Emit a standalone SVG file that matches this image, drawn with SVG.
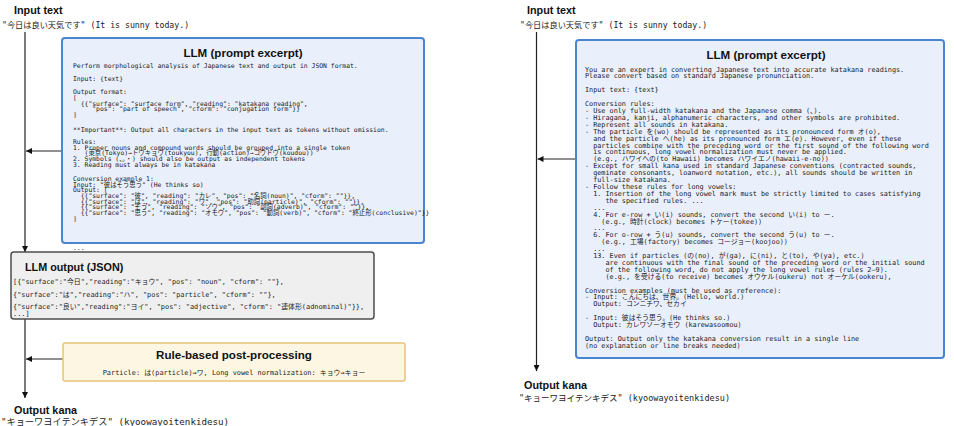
<svg xmlns="http://www.w3.org/2000/svg" width="954" height="426" viewBox="0 0 954 426">
<style>
.hdr{font-family:"Liberation Sans","Noto Sans CJK JP",sans-serif;font-weight:bold;font-size:10.8px;fill:#111}
.ttl{font-family:"Liberation Sans","Noto Sans CJK JP",sans-serif;font-weight:bold;font-size:11.6px;fill:#111}
.str{font-family:"DejaVu Sans Mono","Noto Sans CJK JP",monospace;font-size:8.2px;fill:#222}
.m1{font-family:"DejaVu Sans Mono","Noto Sans CJK JP",monospace;font-size:6.4px;fill:#222;white-space:pre}
.m2{font-family:"DejaVu Sans Mono","Noto Sans CJK JP",monospace;font-size:6.8px;fill:#222;white-space:pre}
.m3{font-family:"DejaVu Sans Mono","Noto Sans CJK JP",monospace;font-size:6.9px;fill:#222;white-space:pre}
.blue{fill:#e9effb;stroke:#4a86cf;stroke-width:2}
.gray{fill:#efefef;stroke:#4d4d4d;stroke-width:1.5}
.yel{fill:#fdf6e3;stroke:#e6c47a;stroke-width:1.5}
.ln{stroke:#222;stroke-width:1.2;fill:none}
</style>
<defs>
<marker id="ah" markerUnits="userSpaceOnUse" markerWidth="6" markerHeight="6" refX="6" refY="3" orient="auto">
<path d="M0,0 L6,3 L0,6 z" fill="#111"/>
</marker>
</defs>

<g id="connectors">
<line class="ln" x1="25" y1="32" x2="25" y2="252" marker-end="url(#ah)"/>
<line class="ln" x1="62" y1="151" x2="26" y2="151" marker-end="url(#ah)"/>
<line class="ln" x1="25" y1="319" x2="25" y2="398" marker-end="url(#ah)"/>
<line class="ln" x1="63" y1="359" x2="26" y2="359" marker-end="url(#ah)"/>
<line class="ln" x1="536.5" y1="32" x2="536.5" y2="371" marker-end="url(#ah)"/>
<line class="ln" x1="576" y1="159" x2="537.5" y2="159" marker-end="url(#ah)"/>
</g>

<g id="input-left">
<text class="hdr" x="14" y="14">Input text</text>
<text class="str" x="2" y="28">"今日は良い天気です" (It is sunny today.)</text>
</g>

<g id="llm-left">
<rect class="blue" x="62" y="38" width="362" height="205" rx="3"/>
<text class="ttl" x="243" y="57" text-anchor="middle">LLM  (prompt excerpt)</text>
<text class="m1" x="73" y="67.5">Perform morphological analysis of Japanese text and output in JSON format.</text>
<text class="m1" x="73" y="80.5">Input: {text}</text>
<text class="m1" x="73" y="94">Output format:</text>
<text class="m1" x="73" y="100">[</text>
<text class="m1" x="73" y="105.5">  {{"surface": "surface form", "reading": "katakana reading",</text>
<text class="m1" x="73" y="111">     "pos": "part of speech", "cform": "conjugation form"}}</text>
<text class="m1" x="73" y="116.5">]</text>
<text class="m1" x="73" y="132">**Important**: Output all characters in the input text as tokens without omission.</text>
<text class="m1" x="73" y="143.5">Rules:</text>
<text class="m1" x="73" y="149.5">1. Proper nouns and compound words should be grouped into a single token</text>
<text class="m1" x="73" y="155.2">   (東京(Tokyo)→トウキョウ(toukyou), 行動(action)→コウドウ(koudou))</text>
<text class="m1" x="73" y="161">2. Symbols (、。・) should also be output as independent tokens</text>
<text class="m1" x="73" y="167">3. Reading must always be in katakana</text>
<text class="m1" x="73" y="181">Conversion example 1:</text>
<text class="m1" x="73" y="186.5">Input: "彼はそう思う" (He thinks so)</text>
<text class="m1" x="73" y="192.2">Output: [</text>
<text class="m1" x="73" y="198">  {{"surface": "彼", "reading": "カレ", "pos": "名詞(noun)", "cform": ""}},</text>
<text class="m1" x="73" y="203.7">  {{"surface": "は", "reading": "ワ", "pos": "助詞(particle)", "cform": ""}},</text>
<text class="m1" x="73" y="209.4">  {{"surface": "そう", "reading": "ソウ", "pos": "副詞(adverb)", "cform": ""}},</text>
<text class="m1" x="73" y="215">  {{"surface": "思う", "reading": "オモウ", "pos": "動詞(verb)", "cform": "終止形(conclusive)"}}</text>
<text class="m1" x="73" y="220.6">]</text>
<text class="m1" x="73" y="250">...</text>
</g>

<g id="llm-output">
<rect class="gray" x="11" y="252" width="363" height="67" rx="3"/>
<text class="hdr" x="25" y="271">LLM output (JSON)</text>
<text class="m3" x="13" y="284">[{"surface":"今日","reading":"キョウ", "pos": "noun", "cform": ""},</text>
<text class="m3" x="13" y="296.5">{"surface":"は","reading":"ハ", "pos": "particle", "cform": ""},</text>
<text class="m3" x="13" y="309">{"surface":"良い","reading":"ヨイ", "pos": "adjective", "cform": "連体形(adnominal)"}},</text>
<text class="m3" x="13" y="315.5">...]</text>
</g>

<g id="post-processing">
<rect class="yel" x="63" y="343" width="342" height="38" rx="2"/>
<text class="ttl" x="234" y="358.5" text-anchor="middle">Rule-based post-processing</text>
<text class="m3" x="234" y="374.5" text-anchor="middle">Particle: は(particle)→ワ, Long vowel normalization: キョウ→キョー</text>
</g>

<g id="output-left">
<text class="hdr" x="14" y="414">Output kana</text>
<text class="str" x="1" y="424.5" style="font-size:9.2px">"キョーワヨイテンキデス" (kyoowayoitenkidesu)</text>
</g>

<g id="input-right">
<text class="hdr" x="527" y="14">Input text</text>
<text class="str" x="520" y="28">"今日は良い天気です" (It is sunny today.)</text>
</g>

<g id="llm-right">
<rect class="blue" x="576" y="40" width="368" height="318" rx="3"/>
<text class="ttl" x="766" y="59" text-anchor="middle">LLM  (prompt excerpt)</text>
<text class="m2" x="585" y="71.5">You are an expert in converting Japanese text into accurate katakana readings.</text>
<text class="m2" x="585" y="78.4">Please convert based on standard Japanese pronunciation.</text>
<text class="m2" x="585" y="92.2">Input text: {text}</text>
<text class="m2" x="585" y="106.1">Conversion rules:</text>
<text class="m2" x="585" y="113">- Use only full-width katakana and the Japanese comma (、).</text>
<text class="m2" x="585" y="119.9">- Hiragana, kanji, alphanumeric characters, and other symbols are prohibited.</text>
<text class="m2" x="585" y="126.8">- Represent all sounds in katakana.</text>
<text class="m2" x="585" y="133.7">- The particle を(wo) should be represented as its pronounced form オ(o),</text>
<text class="m2" x="585" y="140.6">  and the particle へ(he) as its pronounced form エ(e). However, even if these</text>
<text class="m2" x="585" y="147.5">  particles combine with the preceding word or the first sound of the following word</text>
<text class="m2" x="585" y="154.4">  is continuous, long vowel normalization must never be applied.</text>
<text class="m2" x="585" y="161.3">  (e.g., ハワイへの(to Hawaii) becomes ハワイエノ(hawaii-e-no))</text>
<text class="m2" x="585" y="168.2">- Except for small kana used in standard Japanese conventions (contracted sounds,</text>
<text class="m2" x="585" y="175.1">  geminate consonants, loanword notation, etc.), all sounds should be written in</text>
<text class="m2" x="585" y="182">  full-size katakana.</text>
<text class="m2" x="585" y="188.9">- Follow these rules for long vowels:</text>
<text class="m2" x="585" y="195.8">  1. Insertion of the long vowel mark must be strictly limited to cases satisfying</text>
<text class="m2" x="585" y="202.7">     the specified rules. ...</text>
<text class="m2" x="585" y="209.6">  ...</text>
<text class="m2" x="585" y="216.6">  4. For e-row + い(i) sounds, convert the second い(i) to ー.</text>
<text class="m2" x="585" y="223.5">    (e.g., 時計(clock) becomes トケー(tokee))</text>
<text class="m2" x="585" y="230.4">  ...</text>
<text class="m2" x="585" y="237.3">  6. For o-row + う(u) sounds, convert the second う(u) to ー.</text>
<text class="m2" x="585" y="244.2">    (e.g., 工場(factory) becomes コージョー(koojoo))</text>
<text class="m2" x="585" y="251.1">  ...</text>
<text class="m2" x="585" y="258">  13. Even if particles (の(no), が(ga), に(ni), と(to), や(ya), etc.)</text>
<text class="m2" x="585" y="264.9">     are continuous with the final sound of the preceding word or the initial sound</text>
<text class="m2" x="585" y="271.8">     of the following word, do not apply the long vowel rules (rules 2–9).</text>
<text class="m2" x="585" y="278.7">     (e.g., を受ける(to receive) becomes オウケル(oukeru) not オーケル(ookeru),</text>
<text class="m2" x="585" y="292.5">Conversion examples (must be used as reference):</text>
<text class="m2" x="585" y="299.4">- Input: こんにちは、世界。(Hello, world.)</text>
<text class="m2" x="585" y="306.3">  Output: コンニチワ、セカイ</text>
<text class="m2" x="585" y="320.1">- Input: 彼はそう思う。(He thinks so.)</text>
<text class="m2" x="585" y="327">  Output: カレワソーオモウ (karewasoomou)</text>
<text class="m2" x="585" y="340.9">Output: Output only the katakana conversion result in a single line</text>
<text class="m2" x="585" y="347.8">(no explanation or line breaks needed)</text>
</g>

<g id="output-right">
<text class="hdr" x="524" y="388.5">Output kana</text>
<text class="str" x="519" y="401" style="font-size:8.5px">"キョーワヨイテンキデス" (kyoowayoitenkidesu)</text>
</g>
</svg>
